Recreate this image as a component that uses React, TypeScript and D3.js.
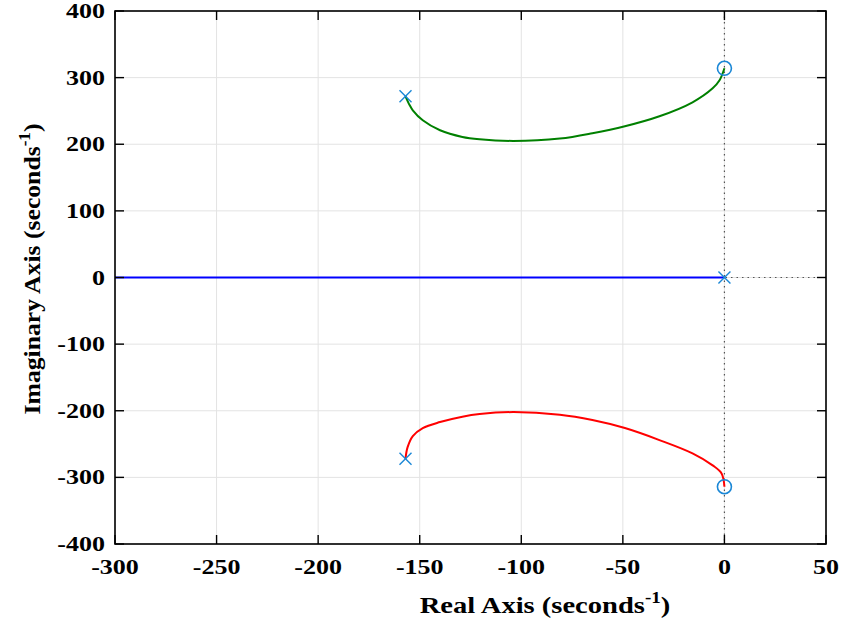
import React from "react";
import * as d3 from "d3";

const xTicks = [-300, -250, -200, -150, -100, -50, 0, 50];
const yTicks = [400, 300, 200, 100, 0, -100, -200, -300, -400];

const greenRe = [-157, -155, -153.4, -148.5, -140, -129, -120.5, -104, -81, -65, -49, -32, -15.7, -5.8, -2.4, 0];
const greenIm = [272, 259, 251, 236, 221, 211, 207.5, 205, 208.5, 216.5, 227, 242, 263, 284, 296, 314];

const redRe = [-157, -156, -153.4, -148.5, -140, -129, -120.5, -104, -81, -65, -49, -32, -15.7, -5.8, -1.4, 0];
const redIm = [-272, -255, -238, -226, -217, -209, -205, -202, -206, -214, -226, -244, -264, -282, -294, -314];

const blueRe = [-300, 0];
const blueIm = [0, 0];

const polesRe = [-157, -157, 0];
const polesIm = [272, -272, 0];
const zerosRe = [0, 0];
const zerosIm = [314, -314];

const W = 841;
const H = 623;
const L = 115, R = 826, T = 11, B = 544;

export default function App() {
  const x = d3.scaleLinear().domain([-300, 50]).range([L, R]);
  const y = d3.scaleLinear().domain([-400, 400]).range([B, T]);
  const line = d3.line<[number, number]>().x(d => x(d[0])).y(d => y(d[1])).curve(d3.curveCatmullRom.alpha(0.5));
  const zip = (a: number[], b: number[]) => a.map((v, i) => [v, b[i]] as [number, number]);
  const markerColor = "#1a87d6";
  const font = "'Liberation Serif', 'Times New Roman', serif";
  const tick = 9;
  return (
    <svg width={W} height={H} style={{ position: "absolute", left: 0, top: 0, background: "#fff" }}>
      {/* grid */}
      {xTicks.map(t => (
        <line key={"gx" + t} x1={x(t)} x2={x(t)} y1={T} y2={B} stroke="#e3e3e3" strokeWidth={1} />
      ))}
      {yTicks.map(t => (
        <line key={"gy" + t} x1={L} x2={R} y1={y(t)} y2={y(t)} stroke="#e3e3e3" strokeWidth={1} />
      ))}
      {/* dotted axes */}
      <line x1={x(0)} x2={x(0)} y1={T} y2={B} stroke="#555" strokeWidth={1.2} strokeDasharray="1.5,4" />
      <line x1={L} x2={R} y1={y(0)} y2={y(0)} stroke="#555" strokeWidth={1.2} strokeDasharray="1.5,4" />
      {/* loci */}
      <path d={line(zip(blueRe, blueIm)) || ""} fill="none" stroke="#0000ff" strokeWidth={1.8} />
      <path d={line(zip(greenRe, greenIm)) || ""} fill="none" stroke="#008000" strokeWidth={2} />
      <path d={line(zip(redRe, redIm)) || ""} fill="none" stroke="#ff0000" strokeWidth={2} />
      {/* poles */}
      {polesRe.map((p, i) => {
        const cx = x(p), cy = y(polesIm[i]), s = 6;
        return (
          <g key={"p" + i} stroke={markerColor} strokeWidth={1.4}>
            <line x1={cx - s} y1={cy - s} x2={cx + s} y2={cy + s} />
            <line x1={cx - s} y1={cy + s} x2={cx + s} y2={cy - s} />
          </g>
        );
      })}
      {/* zeros */}
      {zerosRe.map((z, i) => (
        <circle key={"z" + i} cx={x(z)} cy={y(zerosIm[i])} r={7} fill="none" stroke={markerColor} strokeWidth={1.6} />
      ))}
      {/* box */}
      <rect x={L} y={T} width={R - L} height={B - T} fill="none" stroke="#000" strokeWidth={1.6} />
      {/* ticks */}
      {xTicks.map(t => (
        <g key={"tx" + t}>
          <line x1={x(t)} x2={x(t)} y1={B} y2={B - tick} stroke="#000" strokeWidth={1.4} />
          <line x1={x(t)} x2={x(t)} y1={T} y2={T + tick} stroke="#000" strokeWidth={1.4} />
          <text transform={`translate(${x(t)},${574}) scale(1.3,1)`} textAnchor="middle"
            fontFamily={font} fontWeight="bold" fontSize={20} fill="#000">{t}</text>
        </g>
      ))}
      {yTicks.map(t => (
        <g key={"ty" + t}>
          <line x1={L} x2={L + tick} y1={y(t)} y2={y(t)} stroke="#000" strokeWidth={1.4} />
          <line x1={R} x2={R - tick} y1={y(t)} y2={y(t)} stroke="#000" strokeWidth={1.4} />
          <text transform={`translate(${105},${y(t) + 7}) scale(1.3,1)`} textAnchor="end"
            fontFamily={font} fontWeight="bold" fontSize={20} fill="#000">{t}</text>
        </g>
      ))}
      {/* x label */}
      <text transform={`translate(${545},${613}) scale(1.19,1)`} textAnchor="middle"
        fontFamily={font} fontWeight="bold" fontSize={24} fill="#000">
        Real Axis (seconds<tspan dy={-10} fontSize={16}>-1</tspan><tspan dy={10}>)</tspan>
      </text>
      {/* y label */}
      <text transform={`translate(${40},${269}) rotate(-90) scale(1.07,1)`} textAnchor="middle"
        fontFamily={font} fontWeight="bold" fontSize={24} fill="#000">
        Imaginary Axis (seconds<tspan dy={-10} fontSize={16}>-1</tspan><tspan dy={10}>)</tspan>
      </text>
    </svg>
  );
}
